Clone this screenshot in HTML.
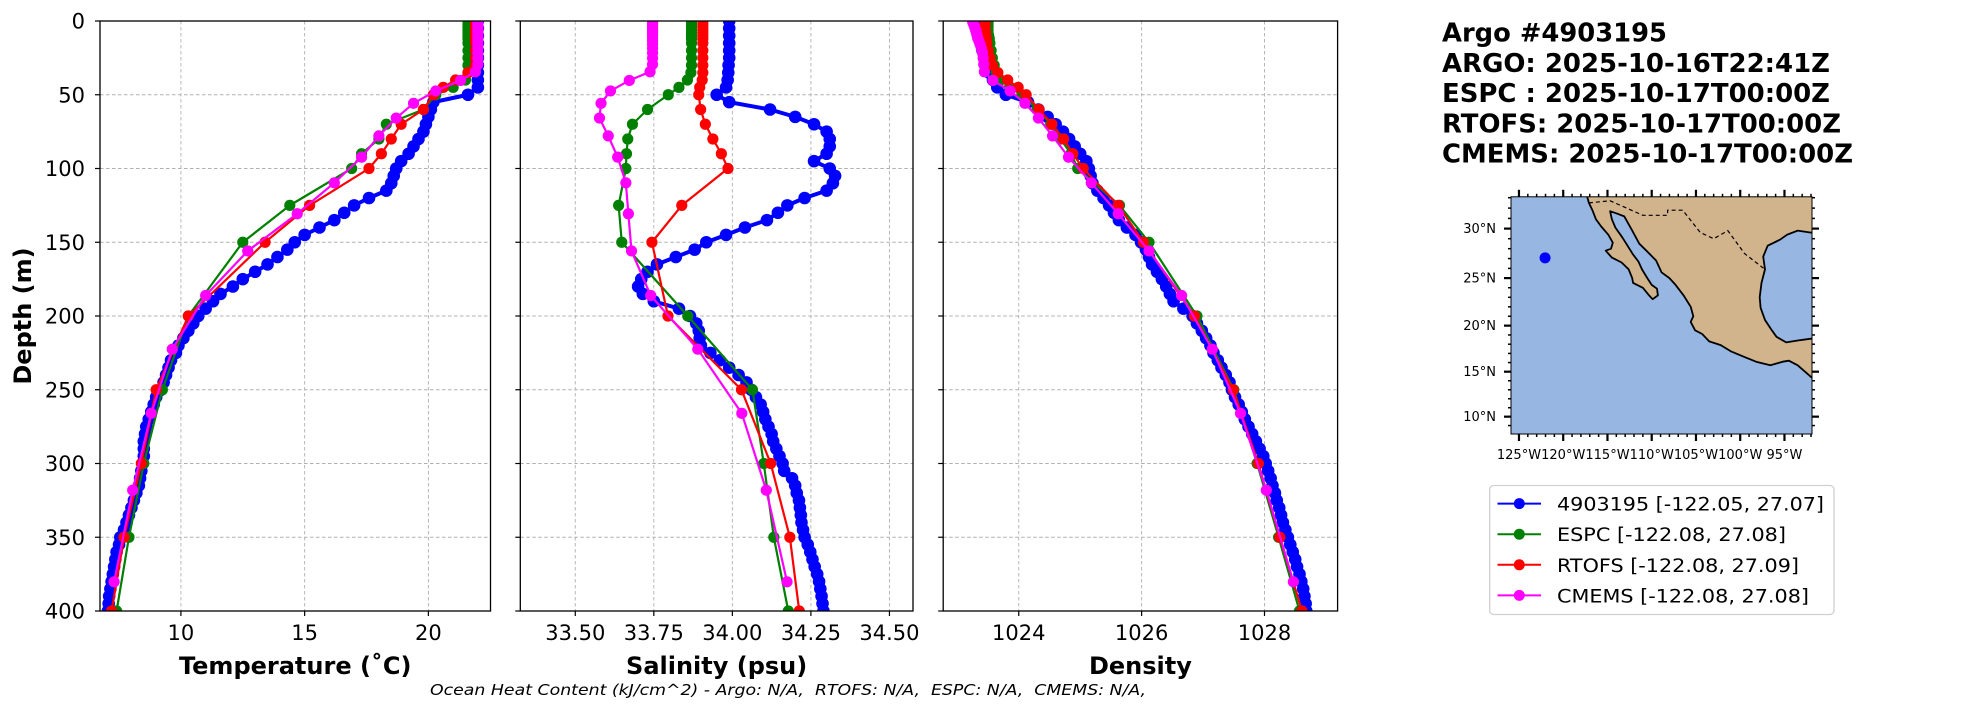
<!DOCTYPE html>
<html><head><meta charset="utf-8">
<style>
html,body{margin:0;padding:0;background:#fff;}
svg{display:block;font-family:"DejaVu Sans","Liberation Sans",sans-serif;}
.pre{white-space:pre;}
</style></head>
<body>
<svg id="fig" width="1967" height="712" viewBox="0 0 1967 712" xmlns="http://www.w3.org/2000/svg">
<defs>
<clipPath id="c0"><rect x="100" y="21" width="390.5" height="590"/></clipPath>
<clipPath id="c1"><rect x="520.3" y="21" width="392.7" height="590"/></clipPath>
<clipPath id="c2"><rect x="943.2" y="21" width="394.4" height="590"/></clipPath>
<clipPath id="cm"><rect x="1511" y="196.8" width="301" height="237.2"/></clipPath>
</defs>
<g id="root"></g>
</svg>
<script>
// ===== DATA =====
const argoDepth = [0,5,10,15,20,25,30,35,40,45,50,55,60,65,70,75,80,85,90,95,100,105,110,115,120,125,130,135,140,145,150,155,160,165,170,175,180,185,190,195,200,205,210,215,220,225,230,235,240,245,250,255,260,265,270,275,280,285,290,295,300,305,310,315,320,325,330,335,340,345,350,355,360,365,370,375,380,385,390,395,400];
const argoTemp = [22.0,22.0,22.0,22.0,22.0,22.0,22.0,22.0,22.0,22.0,21.6,20.2,20.1,20.0,19.9,19.8,19.6,19.4,19.2,18.9,18.7,18.6,18.5,18.3,17.6,17.0,16.6,16.2,15.6,15.0,14.6,14.3,13.9,13.5,13.0,12.5,12.1,11.6,11.3,11.0,10.7,10.5,10.3,10.1,9.9,9.8,9.6,9.5,9.4,9.3,9.2,9.0,8.9,8.8,8.7,8.6,8.55,8.5,8.5,8.5,8.45,8.4,8.35,8.3,8.2,8.1,8.0,7.9,7.8,7.7,7.55,7.5,7.4,7.35,7.3,7.25,7.2,7.15,7.1,7.08,7.05];
const argoSal = [33.99,33.99,33.99,33.99,33.99,33.99,33.988,33.987,33.985,33.98,33.95,33.99,34.12,34.2,34.26,34.3,34.31,34.31,34.30,34.26,34.31,34.327,34.32,34.30,34.23,34.175,34.145,34.11,34.04,33.98,33.917,33.88,33.82,33.76,33.73,33.71,33.70,33.715,33.75,33.83,33.865,33.885,33.893,33.896,33.9,33.93,33.96,33.99,34.02,34.045,34.06,34.075,34.09,34.098,34.105,34.115,34.125,34.13,34.14,34.15,34.16,34.165,34.19,34.2,34.205,34.212,34.215,34.218,34.22,34.225,34.23,34.24,34.248,34.255,34.262,34.27,34.276,34.28,34.284,34.287,34.29];
const argoDens = [1023.36,1023.37,1023.38,1023.39,1023.41,1023.44,1023.47,1023.52,1023.58,1023.65,1023.79,1024.15,1024.32,1024.47,1024.6,1024.72,1024.82,1024.91,1025.0,1025.1,1025.14,1025.17,1025.2,1025.28,1025.38,1025.47,1025.55,1025.63,1025.76,1025.9,1025.99,1026.07,1026.12,1026.17,1026.25,1026.33,1026.4,1026.46,1026.52,1026.68,1026.83,1026.9,1026.98,1027.05,1027.12,1027.17,1027.24,1027.3,1027.37,1027.43,1027.47,1027.52,1027.58,1027.63,1027.68,1027.74,1027.8,1027.86,1027.92,1027.98,1028.02,1028.06,1028.1,1028.13,1028.17,1028.2,1028.24,1028.27,1028.3,1028.34,1028.38,1028.42,1028.46,1028.5,1028.53,1028.57,1028.6,1028.63,1028.65,1028.67,1028.68];

const modelDepth = [0,2,4,6,8,10,12,15,20,25,30,35,40,45,50,60,70,80,90,100,125,150,200,250,300,350,400];
const espcTemp = [21.6,21.6,21.6,21.6,21.6,21.6,21.6,21.6,21.6,21.6,21.6,21.6,21.5,21.0,20.3,19.8,18.3,18.0,17.3,16.9,14.4,12.5,10.3,9.25,8.5,7.9,7.4];
const rtofsTemp = [21.9,21.9,21.9,21.9,21.9,21.9,21.9,21.9,21.9,21.9,21.9,21.6,21.1,20.6,20.2,19.8,18.9,18.5,18.1,17.6,15.2,13.4,10.3,9.0,8.4,7.7,7.2];
const espcSal = [33.87,33.87,33.87,33.87,33.87,33.87,33.87,33.87,33.87,33.87,33.87,33.868,33.857,33.83,33.796,33.73,33.682,33.667,33.663,33.661,33.638,33.648,33.858,34.064,34.1,34.132,34.178];
const rtofsSal = [33.906,33.906,33.906,33.906,33.906,33.906,33.906,33.906,33.906,33.906,33.906,33.906,33.904,33.896,33.893,33.899,33.914,33.938,33.965,33.986,33.839,33.744,33.795,34.029,34.122,34.183,34.213];
const espcDens = [1023.5,1023.5,1023.5,1023.5,1023.5,1023.51,1023.52,1023.53,1023.55,1023.57,1023.6,1023.63,1023.7,1023.85,1024.05,1024.3,1024.52,1024.68,1024.85,1024.96,1025.64,1026.12,1026.9,1027.5,1027.88,1028.23,1028.57];
const rtofsDens = [1023.45,1023.45,1023.45,1023.45,1023.46,1023.46,1023.47,1023.48,1023.5,1023.53,1023.57,1023.66,1023.82,1023.99,1024.12,1024.33,1024.54,1024.73,1024.88,1025.05,1025.62,1026.03,1026.86,1027.49,1027.9,1028.25,1028.61];

const cmemsDepth = [0.5,1.5,2.6,3.8,5.1,6.4,7.9,9.6,11.4,13.5,15.8,18.5,21.6,25.2,29.4,34.4,40.3,47.4,55.8,65.8,77.9,92.3,109.7,130.7,155.9,186.1,222.5,266.0,318.1,380.2];
const cmemsTemp = [22.0,22.0,22.0,22.0,22.0,22.0,22.0,22.0,22.0,22.0,22.0,22.0,22.0,22.0,22.0,21.9,21.3,20.3,19.4,18.7,18.0,17.3,16.2,14.7,12.7,11.0,9.65,8.8,8.05,7.3];
const cmemsSal = [33.746,33.746,33.746,33.746,33.746,33.746,33.746,33.746,33.746,33.746,33.746,33.746,33.746,33.746,33.746,33.738,33.672,33.612,33.582,33.577,33.605,33.635,33.661,33.669,33.679,33.74,33.89,34.03,34.108,34.174];
const cmemsDens = [1023.25,1023.26,1023.27,1023.28,1023.29,1023.3,1023.31,1023.32,1023.33,1023.35,1023.37,1023.39,1023.41,1023.42,1023.43,1023.44,1023.58,1023.86,1024.1,1024.32,1024.55,1024.81,1025.18,1025.62,1026.12,1026.65,1027.15,1027.61,1028.03,1028.47];

const depthTicks = [0,50,100,150,200,250,300,350,400];
const tempTicks = [10,15,20];
const salTicks = [33.50,33.75,34.00,34.25,34.50];
const salTickLabels = ["33.50","33.75","34.00","34.25","34.50"];
const densTicks = [1024,1026,1028];
const latTicks = [10,15,20,25,30];
const lonTicks = [-125,-120,-115,-110,-105,-100,-95];
const argoLon = -122.05;
const argoLat = 27.07;

// ===== HELPERS =====
const NS = "http://www.w3.org/2000/svg";
const root = document.getElementById('root');
function mk(tag, attrs, parent) {
  const e = document.createElementNS(NS, tag);
  for (const k in attrs) e.setAttribute(k, attrs[k]);
  (parent || root).appendChild(e);
  return e;
}
const Y0 = 21, Y1 = 611;
function yDepth(d) { return Y0 + d / 400 * (Y1 - Y0); }

const panels = [
  {x0:100, x1:490.5, min:6.73, max:22.51, clip:'c0', ticks:tempTicks, labels:tempTicks.map(String), title:'Temperature (˚C)', name:'temperature',
   series:[[argoDepth,argoTemp],[modelDepth,espcTemp],[modelDepth,rtofsTemp],[cmemsDepth,cmemsTemp]]},
  {x0:520.3, x1:913, min:33.325, max:34.575, clip:'c1', ticks:salTicks, labels:salTickLabels, title:'Salinity (psu)', name:'salinity',
   series:[[argoDepth,argoSal],[modelDepth,espcSal],[modelDepth,rtofsSal],[cmemsDepth,cmemsSal]]},
  {x0:943.2, x1:1337.6, min:1022.77, max:1029.19, clip:'c2', ticks:densTicks, labels:densTicks.map(String), title:'Density', name:'density',
   series:[[argoDepth,argoDens],[modelDepth,espcDens],[modelDepth,rtofsDens],[cmemsDepth,cmemsDens]]}
];
const colors = ['#0000ff','#008000','#ff0000','#ff00ff'];
const snames = ['argo','espc','rtofs','cmems'];
const radii = [6.3,5.6,5.6,5.6];

panels.forEach((p, pi) => {
  const xs = v => p.x0 + (v - p.min) / (p.max - p.min) * (p.x1 - p.x0);
  const g = mk('g', {});
  
  
  p.ticks.forEach(t => {
    const l = mk('line', {x1:xs(t), x2:xs(t), y1:Y0, y2:Y1, stroke:'#b0b0b0', 'stroke-width':0.9, 'stroke-dasharray':'3.5,2.5'}, g);
    
    
  });
  depthTicks.forEach(t => {
    const l = mk('line', {x1:p.x0, x2:p.x1, y1:yDepth(t), y2:yDepth(t), stroke:'#b0b0b0', 'stroke-width':0.9, 'stroke-dasharray':'3.5,2.5'}, g);
    
    
  });
  const sg = mk('g', {'clip-path':'url(#' + p.clip + ')'}, g);
  p.series.forEach((s, si) => {
    const [ds, vs] = s;
    const pts = ds.map((d, i) => xs(vs[i]).toFixed(2) + ',' + yDepth(d).toFixed(2)).join(' ');
    const ser = mk('g', {}, sg);
    
    
    mk('polyline', {points:pts, fill:'none', stroke:colors[si], 'stroke-width': si === 0 ? 4 : 2.2, 'stroke-linejoin':'round'}, ser);
    ds.forEach((d, i) => {
      const c = mk('circle', {cx:xs(vs[i]), cy:yDepth(d), r:radii[si], fill:colors[si]}, ser);
      
      
    });
  });
  const fr = mk('rect', {x:p.x0, y:Y0, width:p.x1 - p.x0, height:Y1 - Y0, fill:'none', stroke:'#000', 'stroke-width':1.3}, g);
  
  
  p.ticks.forEach((t, i) => {
    mk('line', {x1:xs(t), x2:xs(t), y1:Y1, y2:Y1 + 5, stroke:'#000', 'stroke-width':1.2}, g);
    const tx = mk('text', {x:xs(t), y:640, 'font-size':21, 'text-anchor':'middle', fill:'#000'}, g);
    tx.textContent = p.labels[i];
    
    
  });
  depthTicks.forEach(t => {
    mk('line', {x1:p.x0 - 5, x2:p.x0, y1:yDepth(t), y2:yDepth(t), stroke:'#000', 'stroke-width':1.2}, g);
    if (pi === 0) {
      const ty = mk('text', {x:85, y:yDepth(t) + 7.5, 'font-size':21, 'text-anchor':'end', fill:'#000'}, g);
      ty.textContent = String(t);
      
      
    }
  });
  const xt = mk('text', {x:(p.x0 + p.x1) / 2, y:674, 'font-size':24, 'font-weight':'bold', 'text-anchor':'middle', fill:'#000'}, g);
  xt.textContent = p.title;
  
  
});

const yt = mk('text', {x:0, y:0, 'font-size':24, 'font-weight':'bold', 'text-anchor':'middle', transform:'translate(31,316) rotate(-90)'});
yt.textContent = 'Depth (m)';



const ht = mk('text', {x:430, y:695, 'font-size':15, 'font-style':'italic', textLength:716, lengthAdjust:'spacingAndGlyphs', fill:'#000', 'class':'pre'});
ht.textContent = 'Ocean Heat Content (kJ/cm^2) - Argo: N/A,  RTOFS: N/A,  ESPC: N/A,  CMEMS: N/A,';



const titles = ['Argo #4903195','ARGO: 2025-10-16T22:41Z','ESPC : 2025-10-17T00:00Z','RTOFS: 2025-10-17T00:00Z','CMEMS: 2025-10-17T00:00Z'];
const tlen = [225,388,388,399,411];
titles.forEach((t, i) => {
  const e = mk('text', {x:1442, y:41.5 + i * 30.3, 'font-size':26, 'font-weight':'bold', textLength:tlen[i], lengthAdjust:'spacingAndGlyphs', fill:'#000'});
  e.textContent = t;
  
  
});

// ===== MAP =====
const MX0 = 1511, MX1 = 1812, MY0 = 196.8, MY1 = 434;
function merc(lat) { return Math.log(Math.tan(Math.PI / 4 + lat * Math.PI / 360)); }
function mx(lon) { return MX0 + (lon + 125.9) * 8.85; }
function my(lat) { return 228.6 - (merc(lat) - merc(30)) * 503; }
const mapG = mk('g', {});


const mc = mk('g', {'clip-path':'url(#cm)'}, mapG);
mk('rect', {x:MX0, y:MY0, width:MX1 - MX0, height:MY1 - MY0, fill:'#97b6e1'}, mc);
const land = [[-117.6,34],[-117.1,32.5],[-116.7,31.8],[-116.3,30.9],[-115.7,30.2],[-114.9,29.4],[-114.4,28.6],[-114.6,28.0],[-115.2,27.8],[-114.5,27.1],[-113.4,26.6],[-112.6,25.9],[-112.2,25.0],[-112.1,24.5],[-111.0,24.0],[-110.3,23.2],[-109.9,22.8],[-109.3,23.2],[-109.4,23.9],[-110.0,24.3],[-110.5,25.0],[-111.1,25.9],[-111.5,26.7],[-112.1,27.4],[-112.8,28.4],[-113.3,29.1],[-114.1,30.1],[-114.5,30.9],[-114.7,31.7],[-114.0,31.5],[-113.1,31.2],[-112.2,29.8],[-111.4,28.5],[-110.6,27.8],[-109.5,26.8],[-108.9,25.6],[-108.0,25.0],[-107.3,24.3],[-106.4,23.2],[-105.6,22.0],[-105.3,21.0],[-105.6,20.4],[-105.1,19.5],[-104.3,19.1],[-103.5,18.3],[-102.2,17.9],[-101.0,17.2],[-99.5,16.6],[-98.2,16.1],[-96.6,15.7],[-95.2,16.1],[-94.5,16.2],[-93.5,15.7],[-92.2,14.6],[-91.5,14.0],[-91.5,18.6],[-92.0,18.6],[-93.5,18.4],[-94.8,18.2],[-95.9,18.8],[-96.5,19.6],[-97.2,20.6],[-97.7,21.9],[-97.8,23.0],[-97.6,24.5],[-97.2,25.9],[-97.4,27.2],[-96.9,28.3],[-95.5,28.9],[-94.7,29.4],[-93.5,29.8],[-92.0,29.6],[-91.5,29.7],[-91.5,34]];
const lp = mk('polygon', {points:land.map(p => mx(p[0]).toFixed(1) + ',' + my(p[1]).toFixed(1)).join(' '), fill:'#d2b48c', stroke:'#000', 'stroke-width':1.8, 'stroke-linejoin':'round'}, mc);


const border = [[-117.1,32.5],[-114.7,32.7],[-111,31.3],[-108.2,31.3],[-108.2,31.8],[-106.5,31.8],[-104.5,29.6],[-103,29],[-101.4,29.8],[-99.5,27.5],[-97.2,25.9]];
mk('polyline', {points:border.map(p => mx(p[0]).toFixed(1) + ',' + my(p[1]).toFixed(1)).join(' '), fill:'none', stroke:'#000', 'stroke-width':1.2, 'stroke-dasharray':'4,3'}, mc);
const dot = mk('circle', {cx:mx(argoLon), cy:my(argoLat), r:5.5, fill:'#0000ff'}, mc);


mk('rect', {x:MX0, y:MY0, width:MX1 - MX0, height:MY1 - MY0, fill:'none', stroke:'#000', 'stroke-width':1}, mapG);
for (let lon = -126; lon <= -92; lon++) {
  const x = mx(lon);
  if (x < MX0 || x > MX1) continue;
  mk('line', {x1:x, x2:x, y1:MY0 - 3, y2:MY0, stroke:'#000', 'stroke-width':1.5}, mapG);
  mk('line', {x1:x, x2:x, y1:MY1, y2:MY1 + 3, stroke:'#000', 'stroke-width':1.5}, mapG);
}
for (let lat = 9; lat <= 33; lat++) {
  const y = my(lat);
  mk('line', {x1:MX0 - 3, x2:MX0, y1:y, y2:y, stroke:'#000', 'stroke-width':1.5}, mapG);
  mk('line', {x1:MX1, x2:MX1 + 3, y1:y, y2:y, stroke:'#000', 'stroke-width':1.5}, mapG);
}
lonTicks.forEach(lon => {
  const x = mx(lon);
  mk('line', {x1:x, x2:x, y1:MY0 - 7, y2:MY0, stroke:'#000', 'stroke-width':2.2}, mapG);
  mk('line', {x1:x, x2:x, y1:MY1, y2:MY1 + 7, stroke:'#000', 'stroke-width':2.2}, mapG);
  const t = mk('text', {x:x, y:459, 'font-size':13, 'text-anchor':'middle', fill:'#000'}, mapG);
  t.textContent = Math.abs(lon) + '°W';
  
  
});
latTicks.forEach(lat => {
  const y = my(lat);
  mk('line', {x1:MX0 - 7, x2:MX0, y1:y, y2:y, stroke:'#000', 'stroke-width':2.2}, mapG);
  mk('line', {x1:MX1, x2:MX1 + 7, y1:y, y2:y, stroke:'#000', 'stroke-width':2.2}, mapG);
  const t = mk('text', {x:1496, y:y + 4.5, 'font-size':13, 'text-anchor':'end', fill:'#000'}, mapG);
  t.textContent = lat + '°N';
  
  
});

// ===== LEGEND =====
const lg = mk('g', {});


mk('rect', {x:1489.7, y:485.5, width:344.3, height:129, rx:4, fill:'#fff', stroke:'#d0d0d0', 'stroke-width':1.3}, lg);
const legTexts = ['4903195 [-122.05, 27.07]','ESPC [-122.08, 27.08]','RTOFS [-122.08, 27.09]','CMEMS [-122.08, 27.08]'];
const legLen = [267,229,242,252];
legTexts.forEach((t, i) => {
  const y = 503.6 + i * 30.6;
  const e = mk('g', {}, lg);
  
  
  mk('line', {x1:1497.5, x2:1541, y1:y, y2:y, stroke:colors[i], 'stroke-width':2}, e);
  mk('circle', {cx:1519.3, cy:y, r:5.5, fill:colors[i]}, e);
  const tx = mk('text', {x:1557, y:y + 7, 'font-size':18.5, textLength:legLen[i], lengthAdjust:'spacingAndGlyphs', fill:'#000'}, e);
  tx.textContent = t;
});
</script>
</body></html>
